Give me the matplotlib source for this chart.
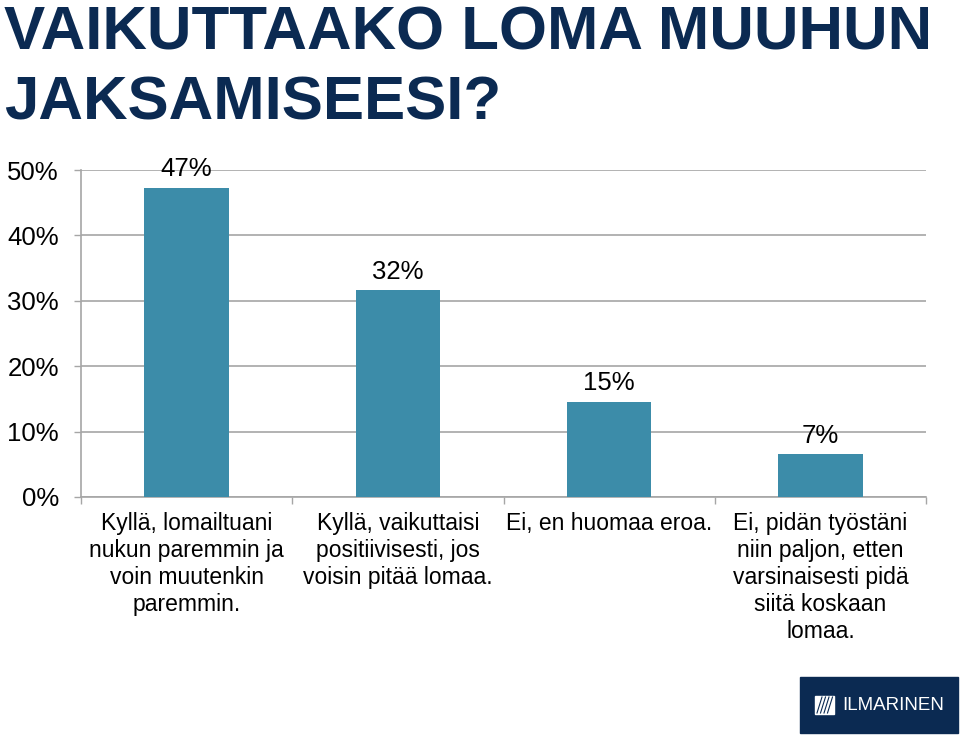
import matplotlib.pyplot as plt
from matplotlib.patches import Rectangle
from matplotlib.lines import Line2D

# ---------- data ----------
title_lines = ["VAIKUTTAAKO LOMA MUUHUN", "JAKSAMISEESI?"]
categories = [
    "Kyllä, lomailtuani\nnukun paremmin ja\nvoin muutenkin\nparemmin.",
    "Kyllä, vaikuttaisi\npositiivisesti, jos\nvoisin pitää lomaa.",
    "Ei, en huomaa eroa.",
    "Ei, pidän työstäni\nniin paljon, etten\nvarsinaisesti pidä\nsiitä koskaan\nlomaa.",
]
values = [0.473, 0.316, 0.146, 0.066]
y_ticks = [0.0, 0.1, 0.2, 0.3, 0.4, 0.5]
y_tick_labels = ["0%", "10%", "20%", "30%", "40%", "50%"]

bar_color = "#3C8CA9"
navy = "#0B2A52"
grid_color = "#A6A6A6"

plt.rcParams['font.family'] = ['Liberation Sans', 'DejaVu Sans']

W, H = 960, 736
fig = plt.figure(figsize=(W / 100, H / 100), dpi=100)
ax = fig.add_axes([81 / W, 1 - 497 / H, (926 - 81) / W, (497 - 170) / H])

x = list(range(len(values)))
bars = ax.bar(x, values, width=0.4, color=bar_color, zorder=3)

for xi, v in zip(x, values):
    ax.annotate(f"{round(v * 100):.0f}%", (xi, v), xytext=(0, 4.5),
                textcoords="offset points", ha="center", va="bottom",
                fontsize=18.5, color="black", zorder=4)

ax.set_xlim(-0.5, len(values) - 0.5)
ax.set_ylim(0, 0.5)
ax.set_yticks(y_ticks)
ax.set_yticklabels(y_tick_labels, fontsize=18.5)
ax.yaxis.grid(True, color=grid_color, linewidth=1.2, zorder=0)
ax.tick_params(axis="y", length=5, width=1, color=grid_color, pad=11)

ax.set_xticks(x)
ax.set_xticklabels(categories, fontsize=16.5, linespacing=1.22)
ax.tick_params(axis="x", which="major", length=0, pad=11)
ax.set_xticks([i - 0.5 for i in range(len(values) + 1)], minor=True)
ax.tick_params(axis="x", which="minor", length=5, width=1, color=grid_color)

for side in ["top", "right"]:
    ax.spines[side].set_visible(False)
for side in ["left", "bottom"]:
    ax.spines[side].set_color(grid_color)
    ax.spines[side].set_linewidth(1.2)

# ---------- title ----------
fig.text(4 / W, 1 - 50 / H, title_lines[0], fontsize=44.5, fontweight="bold",
         color=navy, ha="left", va="baseline")
fig.text(4 / W, 1 - 120 / H, title_lines[1], fontsize=44.5, fontweight="bold",
         color=navy, ha="left", va="baseline")

# ---------- logo ----------
fig.patches.append(Rectangle((800 / W, 1 - 733 / H), 158 / W, 56 / H,
                             transform=fig.transFigure, color=navy))
fig.patches.append(Rectangle((815 / W, 1 - 714 / H), 19 / W, 18 / H,
                             transform=fig.transFigure, color="white"))
for k in range(4):
    x0 = 822 + k * 3.5
    fig.lines.append(Line2D([x0 / W, (x0 - 5) / W], [1 - 697 / H, 1 - 713 / H],
                            transform=fig.transFigure, color=navy, linewidth=0.8))
fig.text(842 / W, 1 - 706 / H, "ILMARINEN", fontsize=13.5, color="white",
         family=["DejaVu Sans Condensed", "Liberation Sans"],
         ha="left", va="center")

fig.savefig("out.png", dpi=100)
